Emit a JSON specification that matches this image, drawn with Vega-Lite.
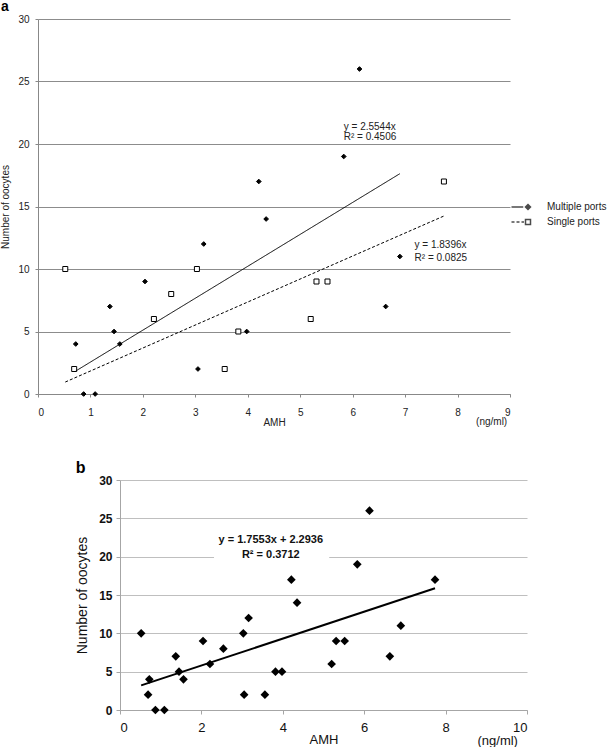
{
  "$schema": "https://vega.github.io/schema/vega-lite/v6.json",
  "padding": {"left": 0, "top": 0, "right": 0, "bottom": 0},
  "background": "white",
  "config": {
    "view": {"stroke": null},
    "font": "Liberation Sans",
    "axis": {"labelFont": "Liberation Sans", "titleFont": "Liberation Sans", "titleFontWeight": "normal", "labelColor": "#222", "titleColor": "#222"}
  },
  "datasets": {
    "pts": [
      {"amh": 0.72, "oocytes": 4, "group": "Multiple ports"},
      {"amh": 0.87, "oocytes": 0, "group": "Multiple ports"},
      {"amh": 1.09, "oocytes": 0, "group": "Multiple ports"},
      {"amh": 1.37, "oocytes": 7, "group": "Multiple ports"},
      {"amh": 1.45, "oocytes": 5, "group": "Multiple ports"},
      {"amh": 1.56, "oocytes": 4, "group": "Multiple ports"},
      {"amh": 2.04, "oocytes": 9, "group": "Multiple ports"},
      {"amh": 3.05, "oocytes": 2, "group": "Multiple ports"},
      {"amh": 3.16, "oocytes": 12, "group": "Multiple ports"},
      {"amh": 3.98, "oocytes": 5, "group": "Multiple ports"},
      {"amh": 4.21, "oocytes": 17, "group": "Multiple ports"},
      {"amh": 4.35, "oocytes": 14, "group": "Multiple ports"},
      {"amh": 5.83, "oocytes": 19, "group": "Multiple ports"},
      {"amh": 6.13, "oocytes": 26, "group": "Multiple ports"},
      {"amh": 6.63, "oocytes": 7, "group": "Multiple ports"},
      {"amh": 6.90, "oocytes": 11, "group": "Multiple ports"},
      {"amh": 0.52, "oocytes": 10, "group": "Single ports"},
      {"amh": 0.69, "oocytes": 2, "group": "Single ports"},
      {"amh": 2.21, "oocytes": 6, "group": "Single ports"},
      {"amh": 2.54, "oocytes": 8, "group": "Single ports"},
      {"amh": 3.03, "oocytes": 10, "group": "Single ports"},
      {"amh": 3.56, "oocytes": 2, "group": "Single ports"},
      {"amh": 3.82, "oocytes": 5, "group": "Single ports"},
      {"amh": 5.20, "oocytes": 6, "group": "Single ports"},
      {"amh": 5.31, "oocytes": 9, "group": "Single ports"},
      {"amh": 5.52, "oocytes": 9, "group": "Single ports"},
      {"amh": 7.74, "oocytes": 17, "group": "Single ports"}
    ],
    "fita": [
      {"amh": 0.72, "oocytes": 1.839, "group": "Multiple ports"},
      {"amh": 6.90, "oocytes": 17.625, "group": "Multiple ports"},
      {"amh": 0.52, "oocytes": 0.957, "group": "Single ports"},
      {"amh": 7.74, "oocytes": 14.239, "group": "Single ports"}
    ],
    "fitb": [
      {"amh": 0.52, "oocytes": 3.206},
      {"amh": 7.74, "oocytes": 15.880}
    ],
    "notesa": [
      {"amh": 5.83, "oocytes": 21.4, "label": "y = 2.5544x"},
      {"amh": 5.83, "oocytes": 20.6, "label": "R² = 0.4506"},
      {"amh": 7.18, "oocytes": 11.94, "label": "y = 1.8396x"},
      {"amh": 7.18, "oocytes": 10.92, "label": "R² = 0.0825"}
    ],
    "unita": [{"amh": 8.65, "oocytes": -2.27, "label": "(ng/ml)"}],
    "notesb": [
      {"amh": 3.705, "oocytes": 22.17, "label": "y = 1.7553x + 2.2936"},
      {"amh": 3.705, "oocytes": 20.2, "label": "R² = 0.3712"}
    ],
    "maskb": [{"amh": 2.31, "amh2": 5.14, "oocytes": 19.2, "oocytes2": 20.8}],
    "unitb": [{"amh": 9.28, "oocytes": -4.0, "label": "(ng/ml)"}]
  },
  "vconcat": [
    {
      "width": 472,
      "height": 375,
      "title": {"text": "a", "anchor": "start", "frame": "bounds", "fontSize": 14, "fontWeight": "bold", "font": "Liberation Sans", "offset": 0, "color": "#000"},
      "resolve": {"scale": {"shape": "independent"}},
      "layer": [
        {
          "data": {"name": "pts"},
          "mark": {"type": "point", "filled": false, "stroke": "black", "strokeWidth": 1, "opacity": 1},
          "encoding": {
            "x": {"field": "amh", "type": "quantitative", "scale": {"domain": [0, 9], "nice": false},
              "axis": {"title": "AMH", "values": [0,1,2,3,4,5,6,7,8,9], "grid": false, "domainColor": "#888", "tickColor": "#888", "tickSize": 3, "labelFontSize": 10, "labelPadding": 10, "titleFontSize": 10, "titlePadding": 0}},
            "y": {"field": "oocytes", "type": "quantitative", "scale": {"domain": [0, 30], "nice": false},
              "axis": {"title": "Number of oocytes", "values": [0,5,10,15,20,25,30], "grid": true, "gridColor": "#8c8c8c", "gridOpacity": 1, "domainColor": "#888", "tickColor": "#888", "tickSize": 3, "labelFontSize": 10, "labelPadding": 6, "titleFontSize": 10, "titlePadding": 7, "labelOverlap": false}},
            "shape": {"field": "group", "type": "nominal", "scale": {"domain": ["Multiple ports", "Single ports"], "range": ["diamond", "square"]}, "legend": null},
            "fill": {"field": "group", "type": "nominal", "scale": {"domain": ["Multiple ports", "Single ports"], "range": ["black", "white"]}, "legend": null},
            "size": {"field": "group", "type": "nominal", "scale": {"domain": ["Multiple ports", "Single ports"], "range": [22, 25]}, "legend": null}
          }
        },
        {
          "data": {"name": "fita"},
          "mark": {"type": "line", "color": "black", "strokeWidth": 1},
          "encoding": {
            "x": {"field": "amh", "type": "quantitative"},
            "y": {"field": "oocytes", "type": "quantitative"},
            "strokeDash": {"field": "group", "type": "nominal", "scale": {"domain": ["Multiple ports", "Single ports"], "range": [[1, 0], [3, 2]]}, "legend": null}
          }
        },
        {
          "data": {"name": "pts"},
          "transform": [{"filter": "false"}],
          "mark": {"type": "point", "stroke": "black", "strokeWidth": 1},
          "encoding": {
            "x": {"field": "amh", "type": "quantitative"},
            "y": {"field": "oocytes", "type": "quantitative"},
            "shape": {"field": "group", "type": "nominal",
              "scale": {"domain": ["Multiple ports", "Single ports"], "range": ["M-3.3,0H-0.95M0,-0.5L0.5,0L0,0.5L-0.5,0ZM0,-0.3L0.3,0L0,0.3L-0.3,0ZM0,-0.12L0.12,0L0,0.12L-0.12,0ZM-0.4,0H0.4M0,-0.4V0.4", "M-3.3,0H-2.7M-2.3,0H-1.7M-1.3,0H-0.8M-0.5,-0.5H0.5V0.5H-0.5Z"]},
              "legend": {"title": null, "orient": "none", "legendX": 484, "legendY": 182, "labelFontSize": 10, "labelFont": "Liberation Sans", "labelColor": "#222", "labelOffset": 13, "rowPadding": 3, "padding": 0, "symbolSize": 100,
                "encode": {"symbols": {"update": {
                  "fill": {"value": "white"},
                  "stroke": {"value": "black"},
                  "strokeWidth": {"value": 1},
                  "opacity": {"value": 1},
                  "fillOpacity": {"value": 1},
                  "strokeOpacity": {"value": 1}
                }}}}}
          }
        },
        {
          "data": {"name": "notesa"},
          "mark": {"type": "text", "align": "left", "baseline": "middle", "fontSize": 10, "font": "Liberation Sans", "color": "#222"},
          "encoding": {
            "x": {"field": "amh", "type": "quantitative"},
            "y": {"field": "oocytes", "type": "quantitative"},
            "text": {"field": "label"}
          }
        },
        {
          "data": {"name": "unita"},
          "mark": {"type": "text", "align": "center", "baseline": "middle", "fontSize": 10, "font": "Liberation Sans", "color": "#222"},
          "encoding": {
            "x": {"field": "amh", "type": "quantitative"},
            "y": {"field": "oocytes", "type": "quantitative"},
            "text": {"field": "label"}
          }
        }
      ]
    },
    {
      "spacing": 0,
      "hconcat": [
        {
          "width": 37,
          "height": 10,
          "data": {"values": []},
          "mark": "point",
          "encoding": {}
        },
        {
          "width": 407,
          "height": 230,
          "title": {"text": "b", "anchor": "start", "frame": "bounds", "fontSize": 16, "fontWeight": "bold", "font": "Liberation Sans", "offset": -2, "color": "#000"},
          "encoding": {
            "x": {"field": "amh", "type": "quantitative", "scale": {"domain": [0, 10], "nice": false},
              "axis": {"title": "AMH", "values": [0,2,4,6,8,10], "grid": false, "domainColor": "#a6a6a6", "tickColor": "#a6a6a6", "tickSize": 4, "labelFontSize": 13, "labelPadding": 7, "titleFontSize": 13, "titlePadding": -1, "labelColor": "#111", "titleColor": "#111"}},
            "y": {"field": "oocytes", "type": "quantitative", "scale": {"domain": [0, 30], "nice": false},
              "axis": {"title": "Number of oocytes", "values": [0,5,10,15,20,25,30], "grid": true, "gridColor": "#bfbfbf", "gridOpacity": 1, "domainColor": "#a6a6a6", "tickColor": "#a6a6a6", "tickSize": 4, "labelFontSize": 12, "labelFontWeight": "bold", "labelPadding": 4, "titleFontSize": 14, "titlePadding": 9, "labelColor": "#111", "titleColor": "#111", "labelOverlap": false}}
          },
          "layer": [
            {
              "data": {"name": "maskb"},
              "mark": {"type": "rect", "color": "white"},
              "encoding": {
                "x2": {"field": "amh2"},
                "y2": {"field": "oocytes2"}
              }
            },
            {
              "data": {"name": "pts"},
              "mark": {"type": "point", "shape": "diamond", "filled": true, "color": "black", "size": 75, "opacity": 1}
            },
            {
              "data": {"name": "fitb"},
              "mark": {"type": "line", "color": "black", "strokeWidth": 2}
            },
            {
              "data": {"name": "notesb"},
              "mark": {"type": "text", "align": "center", "baseline": "middle", "fontSize": 11, "fontWeight": "bold", "font": "Liberation Sans", "color": "#111"},
              "encoding": {
                "text": {"field": "label"}
              }
            },
            {
              "data": {"name": "unitb"},
              "mark": {"type": "text", "align": "center", "baseline": "middle", "fontSize": 13, "font": "Liberation Sans", "color": "#111"},
              "encoding": {
                "text": {"field": "label"}
              }
            }
          ]
        }
      ]
    }
  ],
  "spacing": 32
}
